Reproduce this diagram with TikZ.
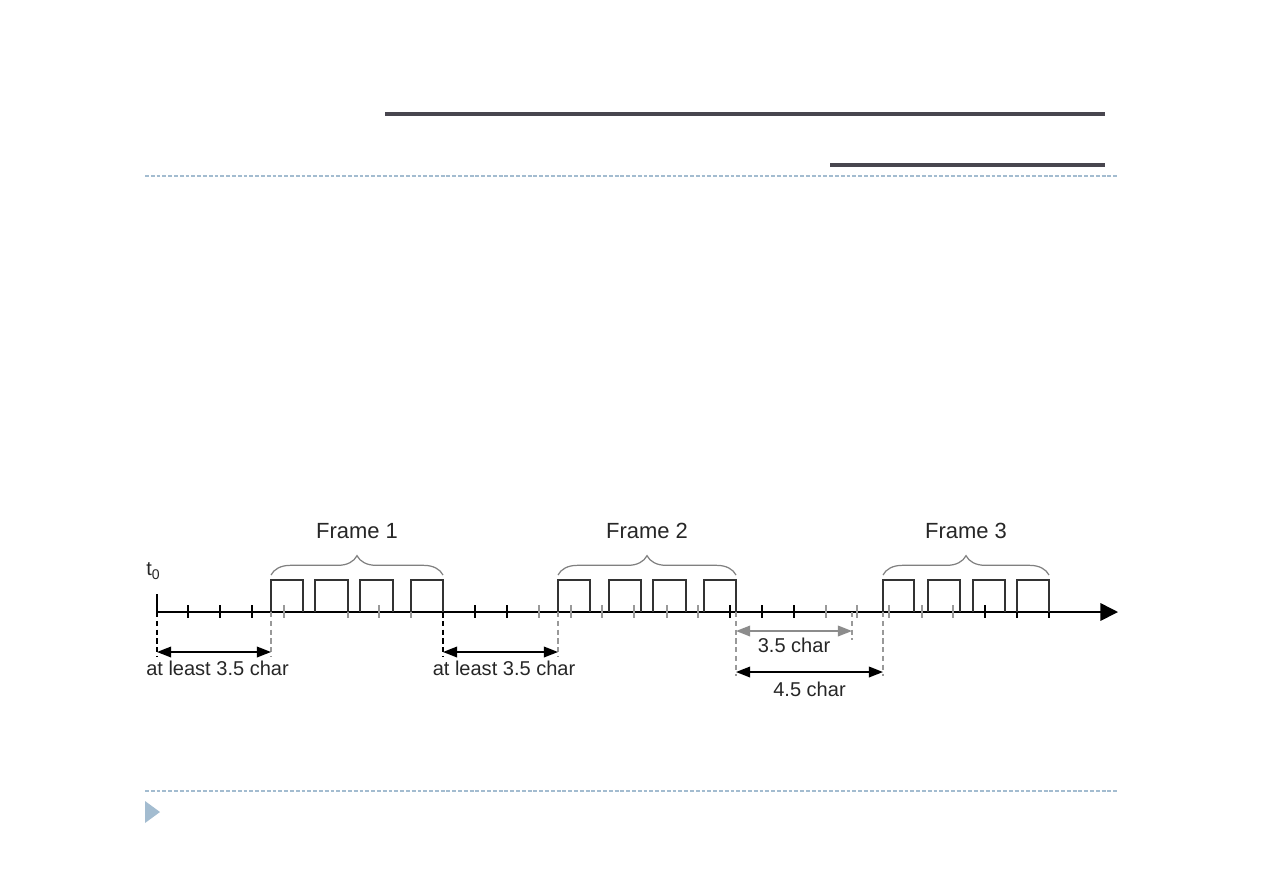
\documentclass[tikz,border=0pt]{standalone}
\usepackage{fontspec}
\setmainfont{Liberation Sans}
\usetikzlibrary{arrows.meta,decorations.pathreplacing,calc}
\definecolor{titlegray}{HTML}{48464F}
\definecolor{slideblue}{HTML}{A3BCD0}
\tikzset{
  tick/.style={black,line width=0.8pt},
  softtick/.style={black!40,line width=0.8pt},
  pulse/.style={black!80,line width=0.7pt},
  framebrace/.style={black!50,line width=0.7pt,decorate,decoration={brace,amplitude=11pt}},
  framelbl/.style={black!85,font=\fontsize{12.5}{15}\selectfont},
  guide/.style={dashed,line width=0.8pt,dash pattern=on 3pt off 2pt},
  span/.style={{Triangle[length=8pt,width=6pt]}-{Triangle[length=8pt,width=6pt]},line width=1pt},
  spanlbl/.style={black!85,font=\fontsize{11.4}{13}\selectfont},
  slidedash/.style={slideblue,line width=0.6pt,dash pattern=on 2.2pt off 1.1pt}
}
\begin{document}
\begin{tikzpicture}[x=0.02cm,y=-0.02cm]
  \useasboundingbox (0,0) rectangle (1263,893);
  % slide decoration
  \draw[titlegray,line width=2.1pt] (385,114)--(1105,114);
  \draw[titlegray,line width=2.1pt] (830,165)--(1105,165);
  \draw[slidedash] (145,176)--(1117,176);
  \draw[slidedash] (145,791)--(1117,791);
  \fill[slideblue] (145,801)--(160,812)--(145,823)--cycle;
  % time axis
  \coordinate (t0) at (157,612);
  \coordinate (tend) at (1118,612);
  \coordinate (f1s) at (271,612);
  \coordinate (f1e) at (443,612);
  \coordinate (f2s) at (558,612);
  \coordinate (f2e) at (736,612);
  \coordinate (m35) at (852,612);
  \coordinate (f3s) at (883,612);
  \coordinate (f3e) at (1049,612);
  \draw[line width=0.85pt,-{Triangle[length=10pt,width=10pt]}] (t0)--(tend);
  \draw[line width=0.8pt] (t0)--++(0,-18);
  \node[black!85,font=\fontsize{11.4}{13}\selectfont] (t0lbl) at (153,571) {t\raisebox{-0.45ex}{\fontsize{8}{9}\selectfont 0}};
  \foreach \x in {188,220,252,475,507,762,794,985,1017,1049,443,730}
    \draw[tick] (\x,605)--(\x,618);
  \foreach \x in {284,348,379,411,539,571,602,634,667,698,826,857,889,922,953}
    \draw[softtick] (\x,605)--(\x,618);
  % pulses
  \foreach \a/\b in {271/303,315/348,360/393,411/443,558/590,609/641,653/686,704/736,883/914,928/960,973/1005,1017/1049}
    \draw[pulse] (\a,612)--(\a,580)--(\b,580)--(\b,612);
  % frames
  \draw[framebrace] (271,575)--(443,575) node[midway,above=17pt,framelbl] (fr1) {Frame 1};
  \draw[framebrace] (558,575)--(736,575) node[midway,above=17pt,framelbl] (fr2) {Frame 2};
  \draw[framebrace] (883,575)--(1049,575) node[midway,above=17pt,framelbl] (fr3) {Frame 3};
  % gaps
  \draw[guide] (t0)--++(0,44) coordinate (g1a);
  \draw[guide,black!40] (f1s)--++(0,44) coordinate (g1b);
  \draw[guide] (f1e)--++(0,44) coordinate (g2a);
  \draw[guide,black!40] (f2s)--++(0,44) coordinate (g2b);
  \draw[guide,black!40] (f2e)--++(0,64) coordinate (g3a);
  \draw[guide,black!40] (m35)--++(0,28) coordinate (g3b);
  \draw[guide,black!40] (f3s)--++(0,64) coordinate (g3c);
  \draw[span] ($(g1a)+(0,-4)$)--($(g1b)+(0,-4)$) node[midway,below=1pt,xshift=2pt,spanlbl] (gap1) {at least 3.5 char};
  \draw[span] ($(g2a)+(0,-4)$)--($(g2b)+(0,-4)$) node[midway,below=1pt,xshift=2pt,spanlbl] (gap2) {at least 3.5 char};
  \draw[span,black!45] ($(f2e)+(0,19)$)--($(m35)+(0,19)$) node[midway,below=0pt,spanlbl] (gap3) {3.5 char};
  \draw[span] ($(g3a)+(0,-4)$)--($(g3c)+(0,-4)$) node[midway,below=2pt,spanlbl] (gap4) {4.5 char};
\end{tikzpicture}
\end{document}
